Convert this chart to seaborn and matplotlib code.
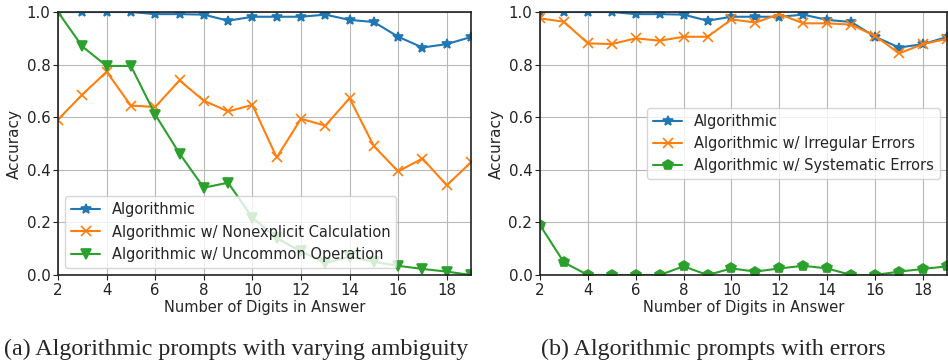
import numpy as np
import pandas as pd
import matplotlib
matplotlib.use("Agg")
import matplotlib.pyplot as plt
import seaborn as sns

digits = list(range(2, 20))

algorithmic = [1.0, 1.0, 1.0, 1.0, 0.992, 0.992, 0.99, 0.967, 0.982, 0.982,
               0.982, 0.99, 0.97, 0.962, 0.906, 0.865, 0.878, 0.905]
nonexplicit = [0.591, 0.686, 0.773, 0.644, 0.639, 0.74, 0.663, 0.622, 0.647, 0.447,
               0.594, 0.568, 0.672, 0.49, 0.394, 0.443, 0.341, 0.429]
uncommon = [1.0, 0.869, 0.795, 0.795, 0.61, 0.462, 0.332, 0.351, 0.218, 0.14,
            0.09, 0.045, 0.07, 0.05, 0.035, 0.023, 0.013, 0.0]
irregular = [0.976, 0.963, 0.881, 0.878, 0.9, 0.891, 0.906, 0.906, 0.972, 0.96,
             0.992, 0.957, 0.957, 0.952, 0.909, 0.843, 0.878, 0.898]
systematic = [0.19, 0.048, 0.0, 0.0, 0.0, 0.0, 0.033, 0.0, 0.025, 0.013,
              0.025, 0.035, 0.025, 0.0, 0.0, 0.013, 0.023, 0.033]

labels_a = ["Algorithmic", "Algorithmic w/ Nonexplicit Calculation",
            "Algorithmic w/ Uncommon Operation"]
labels_b = ["Algorithmic", "Algorithmic w/ Irregular Errors",
            "Algorithmic w/ Systematic Errors"]
captions = ["(a) Algorithmic prompts with varying ambiguity",
            "(b) Algorithmic prompts with errors"]
xlabel = "Number of Digits in Answer"
ylabel = "Accuracy"
xticks = [2, 4, 6, 8, 10, 12, 14, 16, 18]
yticks = [0.0, 0.2, 0.4, 0.6, 0.8, 1.0]

sns.set_style("whitegrid", {
    "axes.edgecolor": "#222222",
    "grid.color": "#b8b8b8",
    "xtick.bottom": True,
    "ytick.left": True,
})
plt.rcParams["font.family"] = ["DejaVu Sans"]
plt.rcParams["xtick.major.size"] = 3.5
plt.rcParams["ytick.major.size"] = 3.5
plt.rcParams["xtick.color"] = "#222222"
plt.rcParams["ytick.color"] = "#222222"

colors = ["#1f77b4", "#ff7f0e", "#2ca02c"]

fig = plt.figure(figsize=(9.48, 3.62), dpi=100)
ax1 = fig.add_axes([0.0612, 0.2403, 0.4357, 0.7265])
ax2 = fig.add_axes([0.5696, 0.2403, 0.4293, 0.7265])

def draw(ax, series, labels, markers, legend_loc):
    for vals, lab, mk, col in zip(series, labels, markers, colors):
        df = pd.DataFrame({"x": digits, "y": vals})
        sns.lineplot(data=df, x="x", y="y", ax=ax, color=col, marker=mk,
                     markersize=7, markeredgecolor=col, markeredgewidth=1.2,
                     linewidth=1.5, label=lab)
    ax.set_xlim(2, 19)
    ax.set_ylim(0, 1)
    ax.set_xticks(xticks)
    ax.set_yticks(yticks)
    ax.set_xticklabels([str(t) for t in xticks], fontsize=10.8)
    ax.set_yticklabels([f"{t:.1f}" for t in yticks], fontsize=10.8)
    ax.set_xlabel(xlabel, fontsize=10.5, labelpad=2)
    ax.set_ylabel(ylabel, fontsize=11, labelpad=3)
    ax.tick_params(axis="both", pad=2)
    ax.legend(loc=legend_loc, fontsize=10.5, frameon=True, framealpha=0.8,
              edgecolor="#cccccc", fancybox=True)
    for sp in ax.spines.values():
        sp.set_linewidth(1.2)

draw(ax1, [algorithmic, nonexplicit, uncommon], labels_a, ["*", "x", "v"], "lower left")
draw(ax2, [algorithmic, irregular, systematic], labels_b, ["*", "x", "p"], "center right")

fig.text(0.2495, 0.036, captions[0], ha="center", va="center",
         fontsize=17.3, family=["Liberation Serif", "DejaVu Serif"])
fig.text(0.752, 0.036, captions[1], ha="center", va="center",
         fontsize=17.3, family=["Liberation Serif", "DejaVu Serif"])

fig.savefig("out.png", dpi=100)
